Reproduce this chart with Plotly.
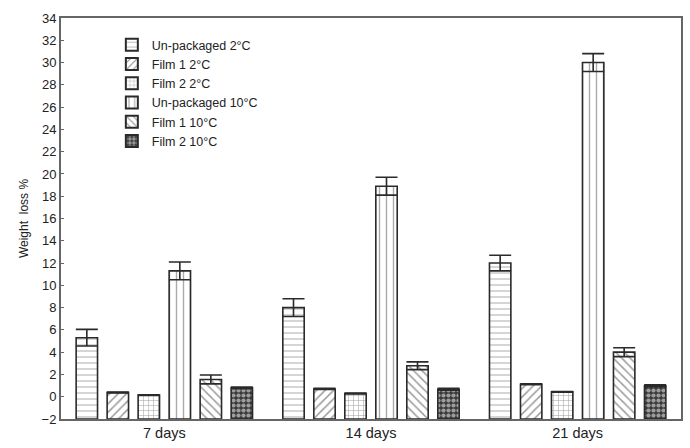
import plotly.graph_objects as go

# Storage time points
periods = ["7 days", "14 days", "21 days"]

# Mean weight loss (%) per treatment at each time point
unpackaged_2c = [5.3, 8.0, 12.0]
film1_2c = [0.38, 0.70, 1.12]
film2_2c = [0.15, 0.29, 0.44]
unpackaged_10c = [11.3, 18.9, 30.0]
film1_10c = [1.55, 2.78, 4.0]
film2_10c = [0.79, 0.67, 0.99]

# Error (half range) per treatment
err_unpackaged_2c = [0.75, 0.8, 0.7]
err_film1_2c = [0.05, 0.05, 0.05]
err_film2_2c = [0.03, 0.03, 0.03]
err_unpackaged_10c = [0.8, 0.8, 0.8]
err_film1_10c = [0.4, 0.35, 0.4]
err_film2_10c = [0.08, 0.08, 0.08]

series = [
    ("Un-packaged 2°C", unpackaged_2c, err_unpackaged_2c,
     dict(shape="-", fgcolor="#444", bgcolor="white", size=6, solidity=0.15)),
    ("Film 1 2°C", film1_2c, err_film1_2c,
     dict(shape="/", fgcolor="#333", bgcolor="white", size=6, solidity=0.25)),
    ("Film 2 2°C", film2_2c, err_film2_2c,
     dict(shape="+", fgcolor="#444", bgcolor="white", size=5, solidity=0.2)),
    ("Un-packaged 10°C", unpackaged_10c, err_unpackaged_10c,
     dict(shape="|", fgcolor="#555", bgcolor="white", size=7, solidity=0.2)),
    ("Film 1 10°C", film1_10c, err_film1_10c,
     dict(shape="\\", fgcolor="#333", bgcolor="white", size=6, solidity=0.25)),
    ("Film 2 10°C", film2_10c, err_film2_10c,
     dict(shape=".", fgcolor="white", bgcolor="#3a3a3a", size=5, solidity=0.55)),
]

AXIS_BASE = -2

fig = go.Figure()
for name, vals, errs, pat in series:
    fig.add_trace(go.Bar(
        name=name,
        x=periods,
        y=[v - AXIS_BASE for v in vals],
        base=AXIS_BASE,
        marker=dict(color="white", pattern=pat,
                    line=dict(color="#2a2a2a", width=1.6)),
        error_y=dict(type="data", array=errs, visible=True,
                     color="#2a2a2a", thickness=1.6, width=11),
        hovertemplate=name + ": %{customdata}<extra></extra>",
        customdata=vals,
    ))

fig.update_layout(
    width=690, height=448,
    margin=dict(l=61, r=7, t=18, b=20),
    paper_bgcolor="white", plot_bgcolor="white",
    barmode="group", bargap=0.1, bargroupgap=0.31,
    font=dict(family="Liberation Sans, Arial, sans-serif", size=13, color="#222"),
    showlegend=True,
    legend=dict(x=0.082, y=0.97, xanchor="left", yanchor="top",
                bgcolor="rgba(0,0,0,0)", font=dict(size=12.5),
                tracegroupgap=0, itemsizing="constant"),
    yaxis=dict(range=[-2, 34], dtick=2, tick0=-2,
               showgrid=False, zeroline=False,
               showline=True, linecolor="#666", linewidth=2, mirror=True,
               ticks="inside", ticklen=3, tickcolor="#666",
               tickfont=dict(size=13),
               title=dict(text="Weight  loss %", standoff=10,
                          font=dict(size=12))),
    xaxis=dict(showgrid=False, zeroline=False,
               showline=True, linecolor="#666", linewidth=2, mirror=True,
               ticks="", tickfont=dict(size=14.5)),
)

fig.write_html("out.html")
